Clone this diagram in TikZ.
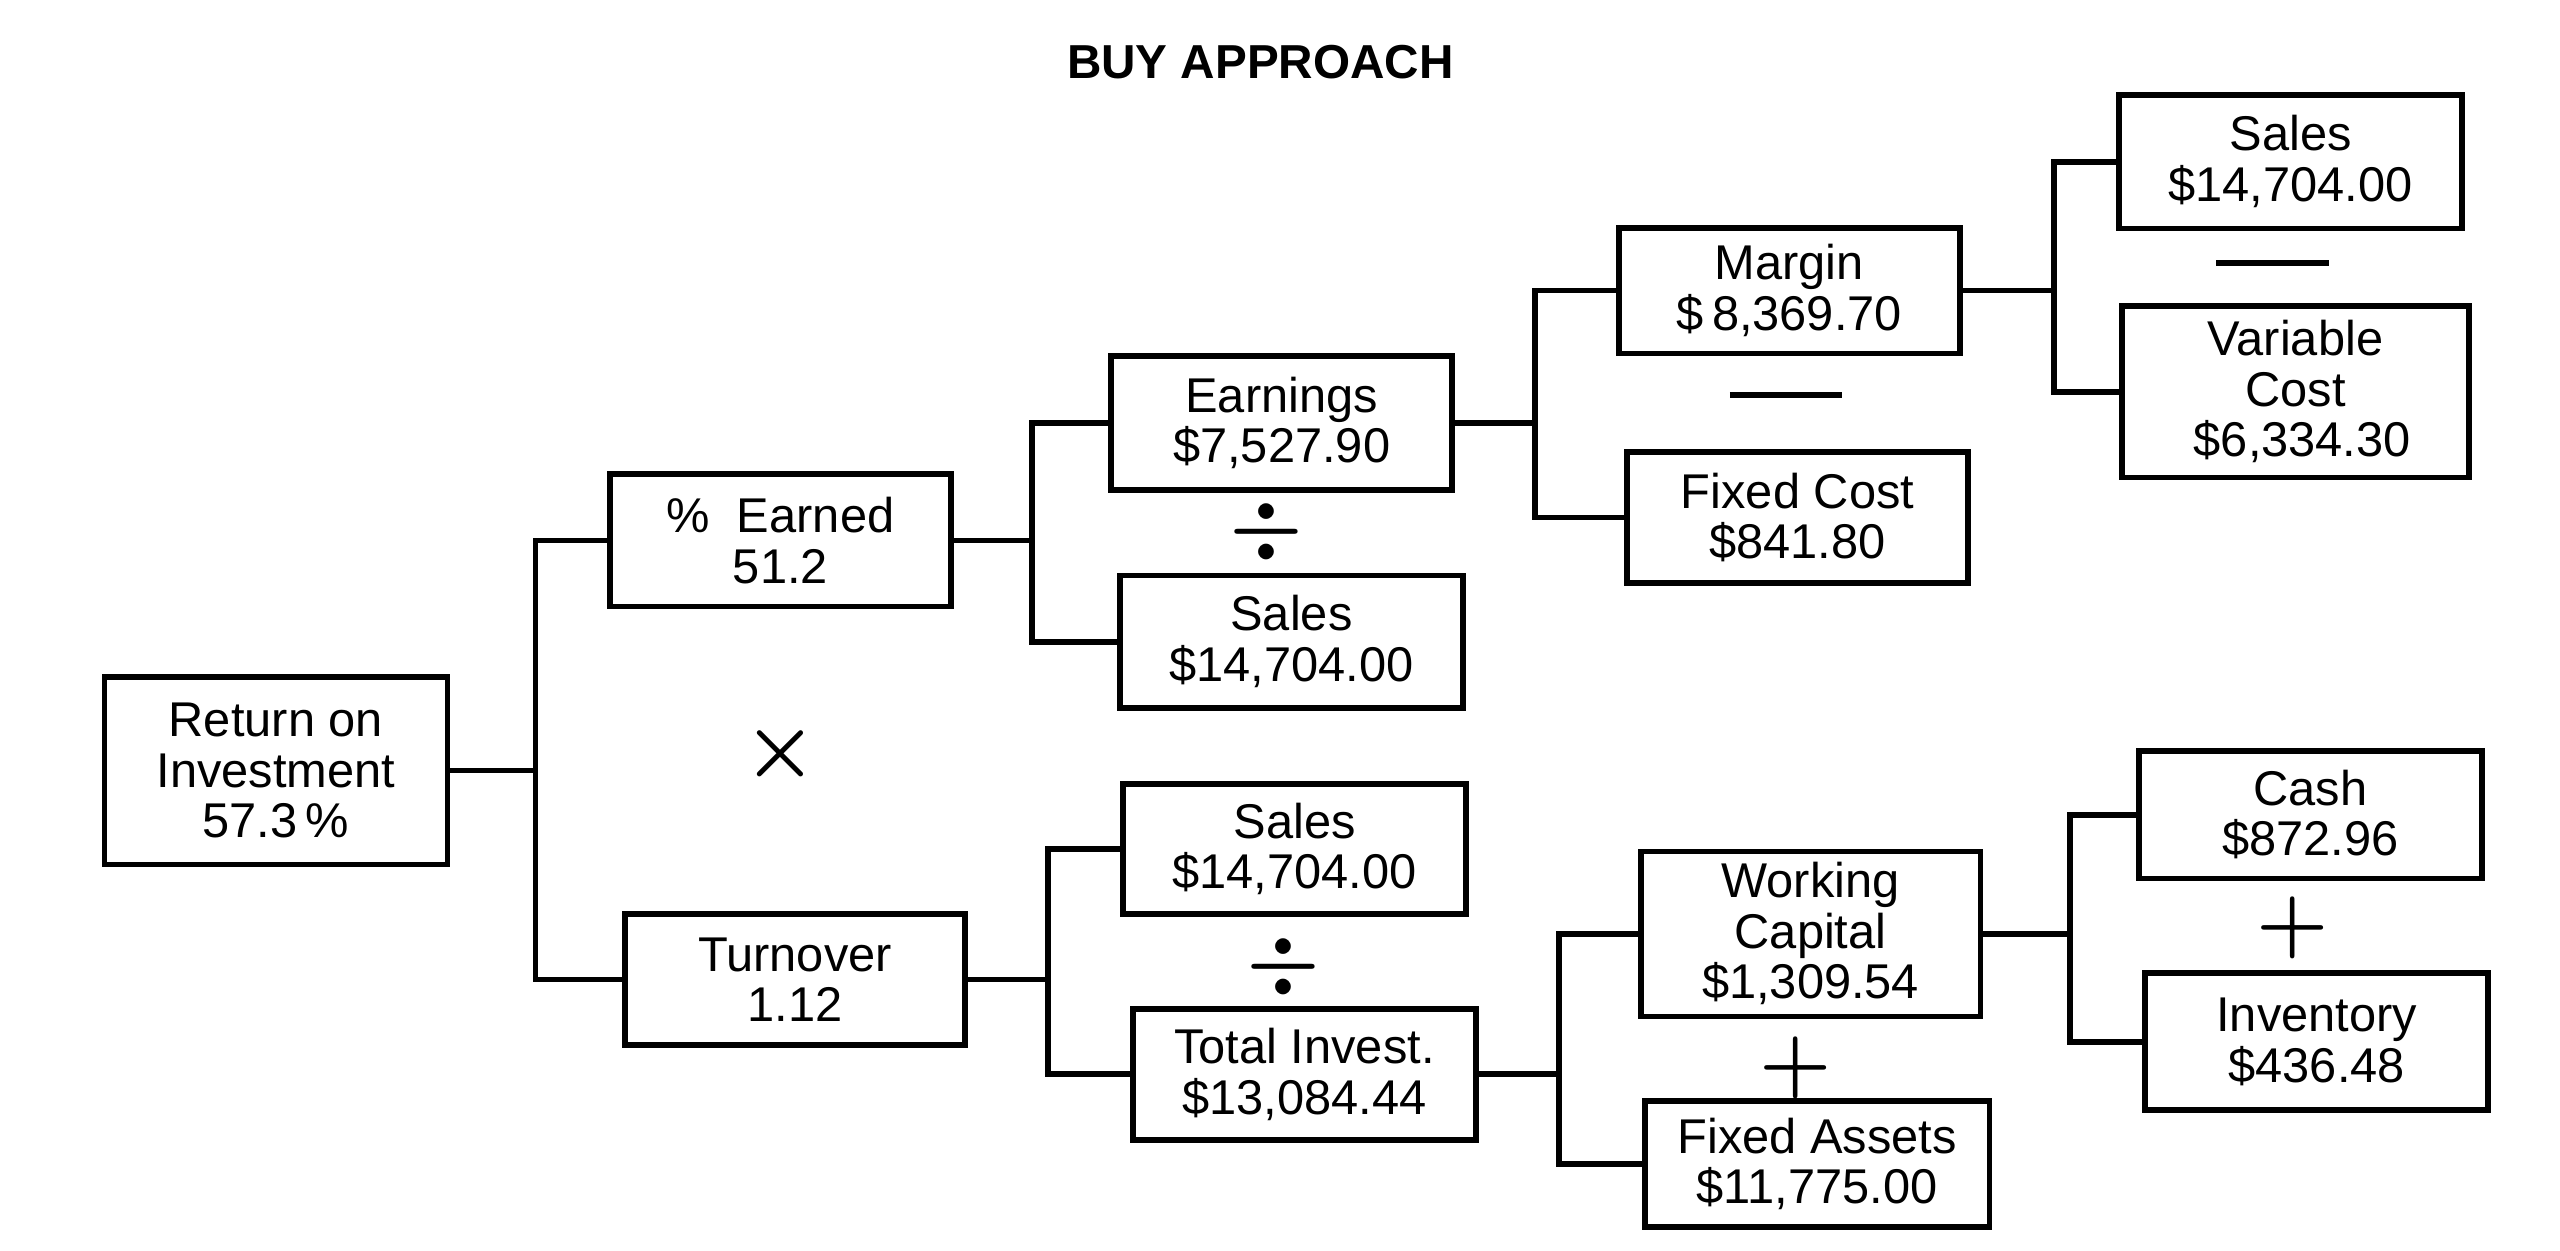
\documentclass[tikz,border=0pt]{standalone}
\usepackage{fontspec}
\setmainfont{Liberation Sans}
\begin{document}
\begin{tikzpicture}[x=0.01cm,y=-0.01cm,
  box/.style={draw,line width=1pt,rectangle,align=center,inner sep=0pt,font=\fontsize{8.5}{8.8}\selectfont},
  op/.style={inner sep=0pt,font=\fontsize{14}{14}\selectfont\boldmath},
  ln/.style={line width=1pt}]
\useasboundingbox (0,0) rectangle (1568,766);
\node[font=\bfseries\fontsize{8.3}{9}\selectfont] (title) at (772,38) {BUY APPROACH};
\node[box,minimum width=2.10cm,minimum height=1.15cm] (roi) at (169,472) {Return on\\Investment\\57.3\,\%};
\node[box,minimum width=2.09cm,minimum height=0.81cm] (pe) at (478,331) {\%\ \ Earned\\51.2};
\node[box,minimum width=2.08cm,minimum height=0.80cm] (to) at (487,600) {Turnover\\1.12};
\node[box,minimum width=2.09cm,minimum height=0.82cm] (ea) at (785,259) {Earnings\\\$7,527.90};
\node[box,minimum width=2.10cm,minimum height=0.81cm] (s1) at (791,393) {Sales\\\$14,704.00};
\node[box,minimum width=2.10cm,minimum height=0.80cm] (s2) at (793,520) {Sales\\\$14,704.00};
\node[box,minimum width=2.10cm,minimum height=0.80cm] (ti) at (799,658) {Total Invest.\\\$13,084.44};
\node[box,minimum width=2.09cm,minimum height=0.77cm] (ma) at (1096,178) {Margin\\\$\,8,369.70};
\node[box,minimum width=2.09cm,minimum height=0.80cm] (fc) at (1101,317) {Fixed Cost\\\$841.80};
\node[box,minimum width=2.08cm,minimum height=1.01cm] (wc) at (1109,572) {Working\\Capital\\\$1,309.54};
\node[box,minimum width=2.11cm,minimum height=0.77cm] (fa) at (1113,713) {Fixed Assets\\\$11,775.00};
\node[box,minimum width=2.10cm,minimum height=0.82cm] (s3) at (1403,99) {Sales\\\$14,704.00};
\node[box,minimum width=2.12cm,minimum height=1.05cm] (vc) at (1406,240) {Variable\\Cost\\\ \$6,334.30};
\node[box,minimum width=2.10cm,minimum height=0.78cm] (ca) at (1415,499) {Cash\\\$872.96};
\node[box,minimum width=2.10cm,minimum height=0.84cm] (in) at (1419,638) {Inventory\\\$436.48};
\coordinate (j1) at (328,466);
\coordinate (j2) at (632,331);
\coordinate (j3) at (642,595);
\coordinate (j4) at (940,251);
\coordinate (j5) at (955,657);
\coordinate (j6) at (1258,177);
\coordinate (j7) at (1268,575);
\draw[ln] (roi.east) -- (roi.east -| j1);
\draw[ln] (pe.west) -| (j1) |- (to.west);
\draw[ln] (pe.east) -- (pe.east -| j2);
\draw[ln] (ea.west) -| (j2) |- (s1.west);
\draw[ln] (to.east) -- (to.east -| j3);
\draw[ln] (s2.west) -| (j3) |- (ti.west);
\draw[ln] (ea.east) -- (ea.east -| j4);
\draw[ln] (ma.west) -| (j4) |- (fc.west);
\draw[ln] (ti.east) -- (ti.east -| j5);
\draw[ln] (wc.west) -| (j5) |- (fa.west);
\draw[ln] (ma.east) -- (ma.east -| j6);
\draw[ln] (s3.west) -| (j6) |- (vc.west);
\draw[ln] (wc.east) -- (wc.east -| j7);
\draw[ln] (ca.west) -| (j7) |- (in.west);
\node[op] (o1) at (478,462) {$\times$};
\node[op] (o2) at (776,326) {$\div$};
\node[op] (o3) at (1094,246) {\rule[0.3ex]{1.4em}{1.1pt}};
\node[op] (o4) at (1392,165) {\rule[0.3ex]{1.4em}{1.1pt}};
\node[op] (o5) at (786,592) {$\div$};
\node[op] (o6) at (1100,654) {$+$};
\node[op] (o7) at (1404,568) {$+$};
\end{tikzpicture}
\end{document}
